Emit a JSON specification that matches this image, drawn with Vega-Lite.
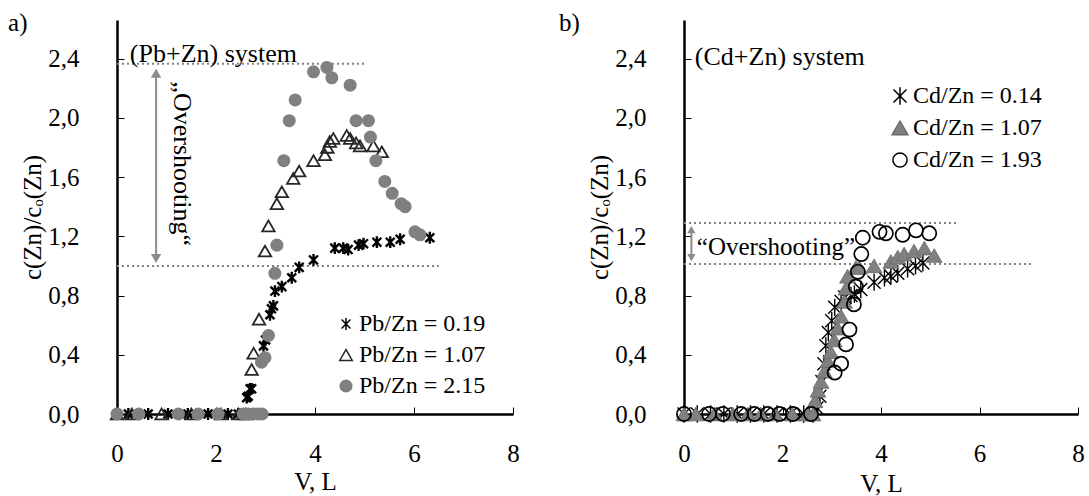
{
  "$schema": "https://vega.github.io/schema/vega-lite/v6.json",
  "padding": {"left": 8, "top": 10, "right": 4, "bottom": 0},
  "spacing": 38,
  "config": {
    "view": {"stroke": null},
    "font": "Liberation Serif",
    "axis": {
      "grid": false,
      "domainColor": "#000000",
      "domainWidth": 2.5,
      "tickColor": "#000000",
      "tickWidth": 1,
      "tickSize": -7,
      "labelFont": "Liberation Serif",
      "labelFontSize": 25,
      "labelColor": "#000000",
      "titleFont": "Liberation Serif",
      "titleFontSize": 25,
      "titleFontWeight": "normal",
      "titleColor": "#000000",
      "labelFlush": false,
      "labelOverlap": false
    },
    "legend": {
      "labelFont": "Liberation Serif",
      "labelFontSize": 24,
      "labelColor": "#000000",
      "rowPadding": 7,
      "padding": 0,
      "labelOffset": 1
    }
  },
  "datasets": {
    "ptsA": [
      {"s": "Pb/Zn = 0.19", "x": 0, "y": 0}, {"s": "Pb/Zn = 0.19", "x": 0.23, "y": 0}, {"s": "Pb/Zn = 0.19", "x": 0.63, "y": 0}, {"s": "Pb/Zn = 0.19", "x": 1.03, "y": 0}, {"s": "Pb/Zn = 0.19", "x": 1.43, "y": 0}, {"s": "Pb/Zn = 0.19", "x": 1.84, "y": 0}, {"s": "Pb/Zn = 0.19", "x": 2.24, "y": 0}, {"s": "Pb/Zn = 0.19", "x": 2.45, "y": 0},
      {"s": "Pb/Zn = 0.19", "x": 2.62, "y": 0.11}, {"s": "Pb/Zn = 0.19", "x": 2.65, "y": 0.12}, {"s": "Pb/Zn = 0.19", "x": 2.69, "y": 0.17}, {"s": "Pb/Zn = 0.19", "x": 2.72, "y": 0.17}, {"s": "Pb/Zn = 0.19", "x": 2.96, "y": 0.46}, {"s": "Pb/Zn = 0.19", "x": 3.0, "y": 0.5}, {"s": "Pb/Zn = 0.19", "x": 3.09, "y": 0.67}, {"s": "Pb/Zn = 0.19", "x": 3.12, "y": 0.71}, {"s": "Pb/Zn = 0.19", "x": 3.16, "y": 0.73}, {"s": "Pb/Zn = 0.19", "x": 3.19, "y": 0.83}, {"s": "Pb/Zn = 0.19", "x": 3.33, "y": 0.86}, {"s": "Pb/Zn = 0.19", "x": 3.53, "y": 0.92}, {"s": "Pb/Zn = 0.19", "x": 3.68, "y": 0.99}, {"s": "Pb/Zn = 0.19", "x": 3.97, "y": 1.04}, {"s": "Pb/Zn = 0.19", "x": 4.4, "y": 1.12}, {"s": "Pb/Zn = 0.19", "x": 4.57, "y": 1.12}, {"s": "Pb/Zn = 0.19", "x": 4.67, "y": 1.11}, {"s": "Pb/Zn = 0.19", "x": 4.88, "y": 1.14}, {"s": "Pb/Zn = 0.19", "x": 4.98, "y": 1.15}, {"s": "Pb/Zn = 0.19", "x": 5.25, "y": 1.16}, {"s": "Pb/Zn = 0.19", "x": 5.52, "y": 1.16}, {"s": "Pb/Zn = 0.19", "x": 5.72, "y": 1.18}, {"s": "Pb/Zn = 0.19", "x": 6.32, "y": 1.19},
      {"s": "Pb/Zn = 1.07", "x": 0, "y": 0}, {"s": "Pb/Zn = 1.07", "x": 0.3, "y": 0}, {"s": "Pb/Zn = 1.07", "x": 0.9, "y": 0}, {"s": "Pb/Zn = 1.07", "x": 1.5, "y": 0}, {"s": "Pb/Zn = 1.07", "x": 2.1, "y": 0}, {"s": "Pb/Zn = 1.07", "x": 2.45, "y": 0}, {"s": "Pb/Zn = 1.07", "x": 2.6, "y": 0},
      {"s": "Pb/Zn = 1.07", "x": 2.72, "y": 0.3}, {"s": "Pb/Zn = 1.07", "x": 2.76, "y": 0.41}, {"s": "Pb/Zn = 1.07", "x": 2.87, "y": 0.64}, {"s": "Pb/Zn = 1.07", "x": 2.99, "y": 1.1}, {"s": "Pb/Zn = 1.07", "x": 3.06, "y": 1.27}, {"s": "Pb/Zn = 1.07", "x": 3.23, "y": 1.42}, {"s": "Pb/Zn = 1.07", "x": 3.33, "y": 1.5}, {"s": "Pb/Zn = 1.07", "x": 3.56, "y": 1.59}, {"s": "Pb/Zn = 1.07", "x": 3.68, "y": 1.64}, {"s": "Pb/Zn = 1.07", "x": 3.97, "y": 1.71}, {"s": "Pb/Zn = 1.07", "x": 4.2, "y": 1.75}, {"s": "Pb/Zn = 1.07", "x": 4.25, "y": 1.8}, {"s": "Pb/Zn = 1.07", "x": 4.3, "y": 1.84}, {"s": "Pb/Zn = 1.07", "x": 4.37, "y": 1.86}, {"s": "Pb/Zn = 1.07", "x": 4.64, "y": 1.88}, {"s": "Pb/Zn = 1.07", "x": 4.71, "y": 1.86}, {"s": "Pb/Zn = 1.07", "x": 4.83, "y": 1.83}, {"s": "Pb/Zn = 1.07", "x": 4.91, "y": 1.81}, {"s": "Pb/Zn = 1.07", "x": 5.18, "y": 1.81}, {"s": "Pb/Zn = 1.07", "x": 5.35, "y": 1.77},
      {"s": "Pb/Zn = 2.15", "x": 0, "y": 0}, {"s": "Pb/Zn = 2.15", "x": 0.44, "y": 0}, {"s": "Pb/Zn = 2.15", "x": 1.24, "y": 0}, {"s": "Pb/Zn = 2.15", "x": 1.64, "y": 0}, {"s": "Pb/Zn = 2.15", "x": 2.04, "y": 0}, {"s": "Pb/Zn = 2.15", "x": 2.55, "y": 0}, {"s": "Pb/Zn = 2.15", "x": 2.65, "y": 0}, {"s": "Pb/Zn = 2.15", "x": 2.75, "y": 0}, {"s": "Pb/Zn = 2.15", "x": 2.85, "y": 0}, {"s": "Pb/Zn = 2.15", "x": 2.93, "y": 0},
      {"s": "Pb/Zn = 2.15", "x": 2.92, "y": 0.35}, {"s": "Pb/Zn = 2.15", "x": 2.99, "y": 0.38}, {"s": "Pb/Zn = 2.15", "x": 3.06, "y": 0.53}, {"s": "Pb/Zn = 2.15", "x": 3.19, "y": 0.95}, {"s": "Pb/Zn = 2.15", "x": 3.23, "y": 1.14}, {"s": "Pb/Zn = 2.15", "x": 3.37, "y": 1.71}, {"s": "Pb/Zn = 2.15", "x": 3.48, "y": 1.98}, {"s": "Pb/Zn = 2.15", "x": 3.6, "y": 2.12}, {"s": "Pb/Zn = 2.15", "x": 3.97, "y": 2.31}, {"s": "Pb/Zn = 2.15", "x": 4.24, "y": 2.34}, {"s": "Pb/Zn = 2.15", "x": 4.34, "y": 2.27}, {"s": "Pb/Zn = 2.15", "x": 4.71, "y": 2.22}, {"s": "Pb/Zn = 2.15", "x": 4.83, "y": 1.98}, {"s": "Pb/Zn = 2.15", "x": 5.08, "y": 1.98}, {"s": "Pb/Zn = 2.15", "x": 5.12, "y": 1.87}, {"s": "Pb/Zn = 2.15", "x": 5.23, "y": 1.71}, {"s": "Pb/Zn = 2.15", "x": 5.41, "y": 1.57}, {"s": "Pb/Zn = 2.15", "x": 5.56, "y": 1.49}, {"s": "Pb/Zn = 2.15", "x": 5.74, "y": 1.42}, {"s": "Pb/Zn = 2.15", "x": 5.82, "y": 1.4}, {"s": "Pb/Zn = 2.15", "x": 6.02, "y": 1.23}, {"s": "Pb/Zn = 2.15", "x": 6.12, "y": 1.21}
    ],
    "ptsB": [
      {"s": "Cd/Zn = 0.14", "x": 0, "y": 0}, {"s": "Cd/Zn = 0.14", "x": 0.27, "y": 0}, {"s": "Cd/Zn = 0.14", "x": 0.54, "y": 0}, {"s": "Cd/Zn = 0.14", "x": 0.81, "y": 0}, {"s": "Cd/Zn = 0.14", "x": 1.08, "y": 0}, {"s": "Cd/Zn = 0.14", "x": 1.35, "y": 0}, {"s": "Cd/Zn = 0.14", "x": 1.62, "y": 0}, {"s": "Cd/Zn = 0.14", "x": 1.89, "y": 0}, {"s": "Cd/Zn = 0.14", "x": 2.16, "y": 0}, {"s": "Cd/Zn = 0.14", "x": 2.43, "y": 0}, {"s": "Cd/Zn = 0.14", "x": 2.62, "y": 0},
      {"s": "Cd/Zn = 0.14", "x": 2.7, "y": 0.04}, {"s": "Cd/Zn = 0.14", "x": 2.76, "y": 0.12}, {"s": "Cd/Zn = 0.14", "x": 2.8, "y": 0.22}, {"s": "Cd/Zn = 0.14", "x": 2.84, "y": 0.34}, {"s": "Cd/Zn = 0.14", "x": 2.88, "y": 0.46}, {"s": "Cd/Zn = 0.14", "x": 2.93, "y": 0.55}, {"s": "Cd/Zn = 0.14", "x": 3.0, "y": 0.63}, {"s": "Cd/Zn = 0.14", "x": 3.06, "y": 0.72}, {"s": "Cd/Zn = 0.14", "x": 3.19, "y": 0.76}, {"s": "Cd/Zn = 0.14", "x": 3.26, "y": 0.79}, {"s": "Cd/Zn = 0.14", "x": 3.39, "y": 0.8}, {"s": "Cd/Zn = 0.14", "x": 3.46, "y": 0.81}, {"s": "Cd/Zn = 0.14", "x": 3.59, "y": 0.84}, {"s": "Cd/Zn = 0.14", "x": 3.86, "y": 0.89}, {"s": "Cd/Zn = 0.14", "x": 4.07, "y": 0.92}, {"s": "Cd/Zn = 0.14", "x": 4.2, "y": 0.93}, {"s": "Cd/Zn = 0.14", "x": 4.34, "y": 0.95}, {"s": "Cd/Zn = 0.14", "x": 4.54, "y": 0.98}, {"s": "Cd/Zn = 0.14", "x": 4.7, "y": 1.0}, {"s": "Cd/Zn = 0.14", "x": 4.85, "y": 1.02},
      {"s": "Cd/Zn = 1.07", "x": 0, "y": 0}, {"s": "Cd/Zn = 1.07", "x": 0.24, "y": 0}, {"s": "Cd/Zn = 1.07", "x": 0.62, "y": 0}, {"s": "Cd/Zn = 1.07", "x": 0.99, "y": 0}, {"s": "Cd/Zn = 1.07", "x": 1.3, "y": 0}, {"s": "Cd/Zn = 1.07", "x": 1.56, "y": 0}, {"s": "Cd/Zn = 1.07", "x": 1.85, "y": 0}, {"s": "Cd/Zn = 1.07", "x": 2.2, "y": 0}, {"s": "Cd/Zn = 1.07", "x": 2.51, "y": 0}, {"s": "Cd/Zn = 1.07", "x": 2.62, "y": 0},
      {"s": "Cd/Zn = 1.07", "x": 2.66, "y": 0.09}, {"s": "Cd/Zn = 1.07", "x": 2.72, "y": 0.16}, {"s": "Cd/Zn = 1.07", "x": 2.78, "y": 0.22}, {"s": "Cd/Zn = 1.07", "x": 2.85, "y": 0.29}, {"s": "Cd/Zn = 1.07", "x": 2.92, "y": 0.36}, {"s": "Cd/Zn = 1.07", "x": 2.98, "y": 0.42}, {"s": "Cd/Zn = 1.07", "x": 3.05, "y": 0.5}, {"s": "Cd/Zn = 1.07", "x": 3.12, "y": 0.58}, {"s": "Cd/Zn = 1.07", "x": 3.19, "y": 0.66}, {"s": "Cd/Zn = 1.07", "x": 3.26, "y": 0.76}, {"s": "Cd/Zn = 1.07", "x": 3.29, "y": 0.85}, {"s": "Cd/Zn = 1.07", "x": 3.32, "y": 0.93}, {"s": "Cd/Zn = 1.07", "x": 3.49, "y": 0.99}, {"s": "Cd/Zn = 1.07", "x": 3.56, "y": 0.99}, {"s": "Cd/Zn = 1.07", "x": 3.86, "y": 1.0}, {"s": "Cd/Zn = 1.07", "x": 4.2, "y": 1.03}, {"s": "Cd/Zn = 1.07", "x": 4.34, "y": 1.06}, {"s": "Cd/Zn = 1.07", "x": 4.47, "y": 1.08}, {"s": "Cd/Zn = 1.07", "x": 4.67, "y": 1.1}, {"s": "Cd/Zn = 1.07", "x": 4.88, "y": 1.12}, {"s": "Cd/Zn = 1.07", "x": 5.08, "y": 1.07},
      {"s": "Cd/Zn = 1.93", "x": 0, "y": 0}, {"s": "Cd/Zn = 1.93", "x": 0.51, "y": 0}, {"s": "Cd/Zn = 1.93", "x": 0.79, "y": 0}, {"s": "Cd/Zn = 1.93", "x": 1.16, "y": 0}, {"s": "Cd/Zn = 1.93", "x": 1.43, "y": 0}, {"s": "Cd/Zn = 1.93", "x": 1.7, "y": 0}, {"s": "Cd/Zn = 1.93", "x": 1.94, "y": 0}, {"s": "Cd/Zn = 1.93", "x": 2.21, "y": 0}, {"s": "Cd/Zn = 1.93", "x": 2.58, "y": 0},
      {"s": "Cd/Zn = 1.93", "x": 3.06, "y": 0.28}, {"s": "Cd/Zn = 1.93", "x": 3.19, "y": 0.34}, {"s": "Cd/Zn = 1.93", "x": 3.29, "y": 0.47}, {"s": "Cd/Zn = 1.93", "x": 3.36, "y": 0.57}, {"s": "Cd/Zn = 1.93", "x": 3.45, "y": 0.74}, {"s": "Cd/Zn = 1.93", "x": 3.49, "y": 0.86}, {"s": "Cd/Zn = 1.93", "x": 3.53, "y": 0.96}, {"s": "Cd/Zn = 1.93", "x": 3.6, "y": 1.08}, {"s": "Cd/Zn = 1.93", "x": 3.63, "y": 1.19}, {"s": "Cd/Zn = 1.93", "x": 3.97, "y": 1.23}, {"s": "Cd/Zn = 1.93", "x": 4.1, "y": 1.22}, {"s": "Cd/Zn = 1.93", "x": 4.44, "y": 1.21}, {"s": "Cd/Zn = 1.93", "x": 4.71, "y": 1.24}, {"s": "Cd/Zn = 1.93", "x": 4.98, "y": 1.22}
    ]
  },
  "resolve": {"scale": {"shape": "independent", "fill": "independent", "stroke": "independent", "size": "independent"}},
  "hconcat": [
    {
      "width": 396,
      "height": 394,
      "encoding": {
        "x": {"field": "x", "type": "quantitative", "scale": {"domain": [0, 8], "nice": false, "zero": false}, "axis": {"values": [0, 2, 4, 6, 8], "title": "V, L", "labelPadding": 34, "titlePadding": 3}},
        "y": {"field": "y", "type": "quantitative", "scale": {"domain": [0, 2.66], "nice": false, "zero": false}, "axis": {"values": [0, 0.4, 0.8, 1.2, 1.6, 2.0, 2.4], "title": "c(Zn)/cₒ(Zn)", "labelExpr": "replace(format(datum.value, '.1f'), '.', ',')", "labelPadding": 45, "titlePadding": 2}}
      },
      "layer": [
        {
          "data": {"values": [{"x": 0, "x2": 5.05, "y": 2.365}, {"x": 0, "x2": 6.5, "y": 1.0}]},
          "mark": {"type": "rule", "color": "#808080", "strokeDash": [2, 3], "strokeWidth": 2},
          "encoding": {"x2": {"field": "x2"}}
        },
        {
          "data": {"values": [{"x": 0.79, "y": 2.3, "y2": 1.05}]},
          "mark": {"type": "rule", "color": "#8c8c8c", "strokeWidth": 2},
          "encoding": {"y2": {"field": "y2"}}
        },
        {
          "data": {"values": [{"x": 0.79, "y": 2.3}]},
          "mark": {"type": "point", "shape": "triangle-up", "filled": true, "color": "#8c8c8c", "size": 110, "opacity": 1},
          "encoding": {}
        },
        {
          "data": {"values": [{"x": 0.79, "y": 1.05}]},
          "mark": {"type": "point", "shape": "triangle-down", "filled": true, "color": "#8c8c8c", "size": 110, "opacity": 1},
          "encoding": {}
        },
        {
          "data": {"values": [{"x": 0.26, "y": 2.43, "t": "(Pb+Zn) system"}]},
          "mark": {"type": "text", "align": "left", "baseline": "middle", "fontSize": 26, "font": "Liberation Serif", "color": "#000000"},
          "encoding": {"text": {"field": "t"}}
        },
        {
          "data": {"values": [{"x": -2.2, "y": 2.64, "t": "a)"}]},
          "mark": {"type": "text", "align": "left", "baseline": "middle", "fontSize": 25, "font": "Liberation Serif", "color": "#000000"},
          "encoding": {"text": {"field": "t"}}
        },
        {
          "data": {"values": [{"x": 1.32, "y": 1.69, "t": "„Overshooting“"}]},
          "mark": {"type": "text", "align": "center", "baseline": "middle", "angle": 90, "fontSize": 26, "font": "Liberation Serif", "color": "#000000"},
          "encoding": {"text": {"field": "t"}}
        },
        {
          "data": {"name": "ptsA"},
          "transform": [{"filter": "datum.s == 'Pb/Zn = 0.19'"}],
          "mark": {"type": "point", "strokeWidth": 2.4, "opacity": 1},
          "encoding": {
            "shape": {"field": "s", "type": "nominal", "scale": {"domain": ["Pb/Zn = 0.19", "Pb/Zn = 1.07", "Pb/Zn = 2.15"], "range": ["M0,-1L0,1M-0.75,-0.75L0.75,0.75M-0.75,0.75L0.75,-0.75", "triangle-up", "circle"]}, "legend": {"title": null, "orient": "none", "legendX": 217, "legendY": 292}},
            "fill": {"field": "s", "type": "nominal", "scale": {"domain": ["Pb/Zn = 0.19", "Pb/Zn = 1.07", "Pb/Zn = 2.15"], "range": ["transparent", "transparent", "#808080"]}, "legend": {"title": null, "orient": "none", "legendX": 217, "legendY": 292}},
            "stroke": {"field": "s", "type": "nominal", "scale": {"domain": ["Pb/Zn = 0.19", "Pb/Zn = 1.07", "Pb/Zn = 2.15"], "range": ["#000000", "#262626", "transparent"]}, "legend": {"title": null, "orient": "none", "legendX": 217, "legendY": 292}},
            "size": {"field": "s", "type": "nominal", "scale": {"domain": ["Pb/Zn = 0.19", "Pb/Zn = 1.07", "Pb/Zn = 2.15"], "range": [140, 170, 180]}, "legend": {"title": null, "orient": "none", "legendX": 217, "legendY": 292}}
          }
        },
        {
          "data": {"name": "ptsA"},
          "transform": [{"filter": "datum.s == 'Pb/Zn = 1.07'"}],
          "mark": {"type": "point", "strokeWidth": 1.8, "opacity": 1},
          "encoding": {
            "shape": {"field": "s", "type": "nominal"},
            "fill": {"field": "s", "type": "nominal"},
            "stroke": {"field": "s", "type": "nominal"},
            "size": {"field": "s", "type": "nominal"}
          }
        },
        {
          "data": {"name": "ptsA"},
          "transform": [{"filter": "datum.s == 'Pb/Zn = 2.15'"}],
          "mark": {"type": "point", "strokeWidth": 0, "opacity": 1},
          "encoding": {
            "shape": {"field": "s", "type": "nominal"},
            "fill": {"field": "s", "type": "nominal"},
            "stroke": {"field": "s", "type": "nominal"},
            "size": {"field": "s", "type": "nominal"}
          }
        }
      ]
    },
    {
      "width": 394,
      "height": 394,
      "encoding": {
        "x": {"field": "x", "type": "quantitative", "scale": {"domain": [0, 8], "nice": false, "zero": false}, "axis": {"values": [0, 2, 4, 6, 8], "title": "V, L", "labelPadding": 34, "titlePadding": 5}},
        "y": {"field": "y", "type": "quantitative", "scale": {"domain": [0, 2.66], "nice": false, "zero": false}, "axis": {"values": [0, 0.4, 0.8, 1.2, 1.6, 2.0, 2.4], "title": "c(Zn)/cₒ(Zn)", "labelExpr": "replace(format(datum.value, '.1f'), '.', ',')", "labelPadding": 45, "titlePadding": 2}}
      },
      "layer": [
        {
          "data": {"values": [{"x": 0, "x2": 5.56, "y": 1.29}, {"x": 0, "x2": 7.05, "y": 1.013}]},
          "mark": {"type": "rule", "color": "#808080", "strokeDash": [2, 3], "strokeWidth": 2},
          "encoding": {"x2": {"field": "x2"}}
        },
        {
          "data": {"values": [{"x": 0.15, "y": 1.25, "y2": 1.05}]},
          "mark": {"type": "rule", "color": "#8c8c8c", "strokeWidth": 2},
          "encoding": {"y2": {"field": "y2"}}
        },
        {
          "data": {"values": [{"x": 0.15, "y": 1.245}]},
          "mark": {"type": "point", "shape": "triangle-up", "filled": true, "color": "#8c8c8c", "size": 70, "opacity": 1},
          "encoding": {}
        },
        {
          "data": {"values": [{"x": 0.15, "y": 1.055}]},
          "mark": {"type": "point", "shape": "triangle-down", "filled": true, "color": "#8c8c8c", "size": 70, "opacity": 1},
          "encoding": {}
        },
        {
          "data": {"values": [{"x": 0.22, "y": 2.41, "t": "(Cd+Zn) system"}]},
          "mark": {"type": "text", "align": "left", "baseline": "middle", "fontSize": 26, "font": "Liberation Serif", "color": "#000000"},
          "encoding": {"text": {"field": "t"}}
        },
        {
          "data": {"values": [{"x": 0.26, "y": 1.13, "t": "“Overshooting”"}, {"x": -2.54, "y": 2.64, "t": "b)"}]},
          "mark": {"type": "text", "align": "left", "baseline": "middle", "fontSize": 25, "font": "Liberation Serif", "color": "#000000"},
          "encoding": {"text": {"field": "t"}}
        },
        {
          "data": {"name": "ptsB"},
          "transform": [{"filter": "datum.s == 'Cd/Zn = 0.14'"}],
          "mark": {"type": "point", "strokeWidth": 1.4, "opacity": 1},
          "encoding": {
            "shape": {"field": "s", "type": "nominal", "scale": {"domain": ["Cd/Zn = 0.14", "Cd/Zn = 1.07", "Cd/Zn = 1.93"], "range": ["M0,-1L0,1M-0.75,-0.75L0.75,0.75M-0.75,0.75L0.75,-0.75", "triangle-up", "circle"]}, "legend": {"title": null, "orient": "none", "legendX": 204, "legendY": 64, "rowPadding": 8}},
            "fill": {"field": "s", "type": "nominal", "scale": {"domain": ["Cd/Zn = 0.14", "Cd/Zn = 1.07", "Cd/Zn = 1.93"], "range": ["transparent", "#808080", "transparent"]}, "legend": {"title": null, "orient": "none", "legendX": 204, "legendY": 64, "rowPadding": 8}},
            "stroke": {"field": "s", "type": "nominal", "scale": {"domain": ["Cd/Zn = 0.14", "Cd/Zn = 1.07", "Cd/Zn = 1.93"], "range": ["#000000", "#6a6a6a", "#000000"]}, "legend": {"title": null, "orient": "none", "legendX": 204, "legendY": 64, "rowPadding": 8}},
            "size": {"field": "s", "type": "nominal", "scale": {"domain": ["Cd/Zn = 0.14", "Cd/Zn = 1.07", "Cd/Zn = 1.93"], "range": [300, 200, 150]}, "legend": {"title": null, "orient": "none", "legendX": 204, "legendY": 64, "rowPadding": 8}}
          }
        },
        {
          "data": {"name": "ptsB"},
          "transform": [{"filter": "datum.s == 'Cd/Zn = 1.07'"}],
          "mark": {"type": "point", "strokeWidth": 0.8, "opacity": 1},
          "encoding": {
            "shape": {"field": "s", "type": "nominal"},
            "fill": {"field": "s", "type": "nominal"},
            "stroke": {"field": "s", "type": "nominal"},
            "size": {"field": "s", "type": "nominal"}
          }
        },
        {
          "data": {"name": "ptsB"},
          "transform": [{"filter": "datum.s == 'Cd/Zn = 1.93'"}],
          "mark": {"type": "point", "strokeWidth": 1.7, "opacity": 1},
          "encoding": {
            "shape": {"field": "s", "type": "nominal"},
            "fill": {"field": "s", "type": "nominal"},
            "stroke": {"field": "s", "type": "nominal"},
            "size": {"field": "s", "type": "nominal"}
          }
        }
      ]
    }
  ]
}
